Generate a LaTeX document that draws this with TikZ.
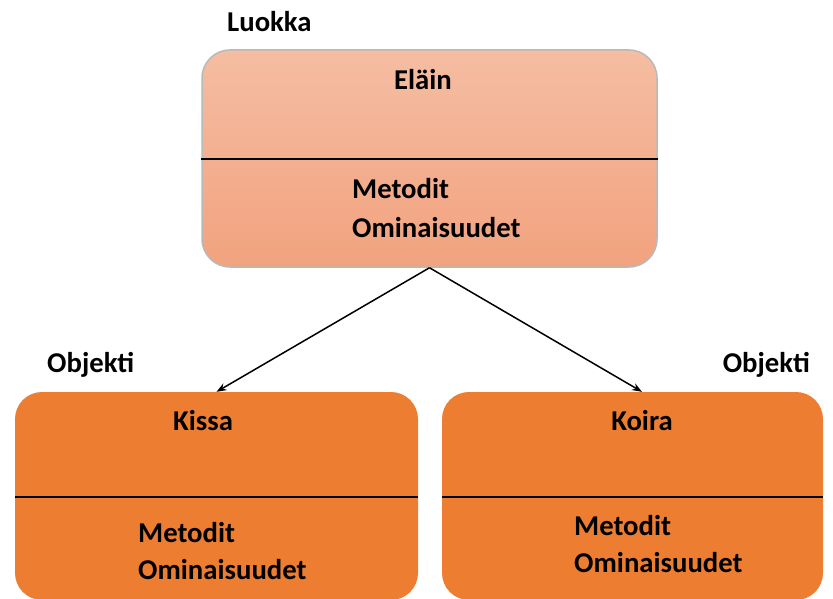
\documentclass[tikz,border=0pt]{standalone}
\usepackage{fontspec}
\setmainfont{Carlito}
\usetikzlibrary{arrows.meta}
\definecolor{topA}{HTML}{F5BDA2}
\definecolor{topB}{HTML}{F2A27F}
\definecolor{objfill}{HTML}{ED7D31}
\tikzset{
  lbl/.style={font=\fontsize{28.7}{34}\selectfont\bfseries, inner sep=0pt, text=black},
  clsbox/.style={rounded corners=28pt, top color=topA, bottom color=topB, draw=gray!55, line width=1.5pt, minimum width=455pt, minimum height=217pt, inner sep=0pt},
  objbox/.style={rounded corners=27pt, fill=objfill, draw=none, inner sep=0pt, minimum height=208pt},
  divider/.style={black, line width=1.3pt},
  conn/.style={black, line width=1.5pt, -{Stealth[length=10pt,width=7.5pt]}}
}
\begin{document}
\begin{tikzpicture}[x=1pt,y=-1pt]
\useasboundingbox (0,0) rectangle (833,599);
\clip (0,0) rectangle (833,599);
\fill[white] (0,0) rectangle (833,599);
% boxes
\node[clsbox] (elain) at (429.5,158.5) {};
\node[objbox, minimum width=403pt] (kissa) at (216.5,496) {};
\node[objbox, minimum width=381pt] (koira) at (632.5,496) {};
% dividers
\draw[divider] (elain.west |- 0,159) -- (elain.east |- 0,159);
\draw[divider] (kissa.west |- 0,497) -- (kissa.east |- 0,497);
\draw[divider] (koira.west |- 0,497) -- (koira.east |- 0,497);
% connectors
\draw[conn] (elain.south) -- (kissa.north);
\draw[conn] (elain.south) -- ([xshift=9.5pt]koira.north);
% texts
\node[lbl, anchor=base west] (luokka) at (227,32) {Luokka};
\node[lbl, anchor=base] (t1) at (423,90) {Eläin};
\node[lbl, anchor=base west] (t2) at (352,199) {Metodit};
\node[lbl, anchor=base west] (t3) at (352,237) {Ominaisuudet};
\node[lbl, anchor=base west] (obj1) at (47,372) {Objekti};
\node[lbl, anchor=base east] (obj2) at (810,372) {Objekti};
\node[lbl, anchor=base] (k1) at (203,430) {Kissa};
\node[lbl, anchor=base west] (k2) at (138,542) {Metodit};
\node[lbl, anchor=base west] (k3) at (138,579) {Ominaisuudet};
\node[lbl, anchor=base] (d1) at (642,430) {Koira};
\node[lbl, anchor=base west] (d2) at (574,535) {Metodit};
\node[lbl, anchor=base west] (d3) at (574,572) {Ominaisuudet};
\end{tikzpicture}
\end{document}
